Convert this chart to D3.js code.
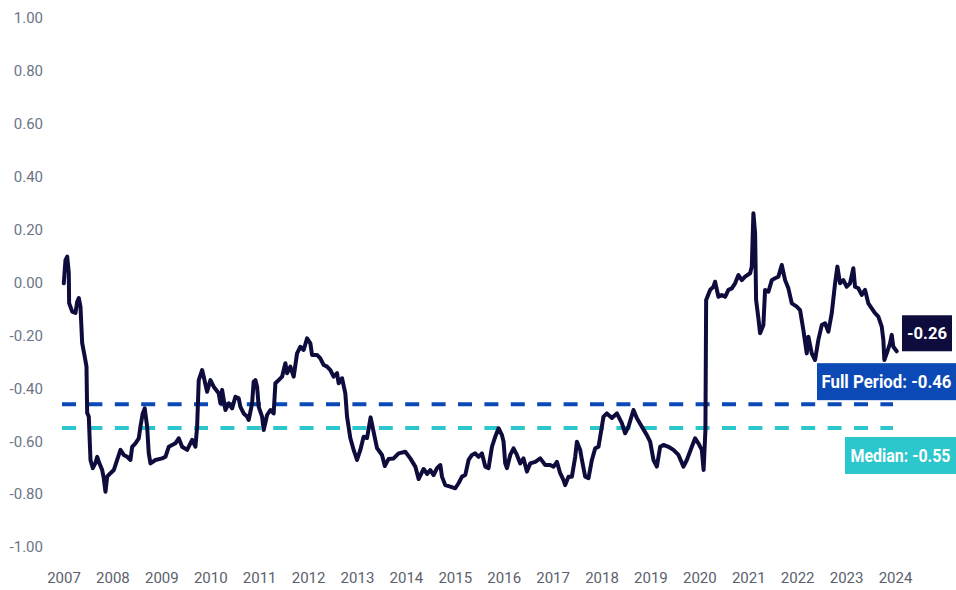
<!DOCTYPE html>
<html>
<head>
<meta charset="utf-8">
<script src="https://cdn.jsdelivr.net/npm/d3@7"></script>
<style>
  html, body { margin: 0; padding: 0; background: #ffffff; }
  svg { display: block; }
</style>
</head>
<body>
<svg id="chart" width="956" height="590"></svg>
<script>
// ---- data (decimal year, value) ----
const dates = [
  2007.006, 2007.041, 2007.076, 2007.108, 2007.115, 2007.178, 2007.245, 2007.280, 2007.313, 2007.347,
  2007.382, 2007.435, 2007.470, 2007.484, 2007.517, 2007.552, 2007.599, 2007.654, 2007.689, 2007.721,
  2007.791, 2007.823, 2007.858, 2007.893, 2007.960, 2008.028, 2008.097, 2008.165, 2008.232, 2008.302,
  2008.369, 2008.404, 2008.471, 2008.539, 2008.573, 2008.620, 2008.661, 2008.710, 2008.743, 2008.778,
  2008.880, 2009.017, 2009.084, 2009.152, 2009.288, 2009.356, 2009.425, 2009.528, 2009.630, 2009.697,
  2009.732, 2009.765, 2009.834, 2009.867, 2009.936, 2010.004, 2010.071, 2010.173, 2010.208, 2010.243,
  2010.310, 2010.378, 2010.447, 2010.515, 2010.582, 2010.617, 2010.684, 2010.754, 2010.786, 2010.856,
  2010.888, 2010.923, 2010.958, 2010.991, 2011.060, 2011.093, 2011.162, 2011.230, 2011.297, 2011.332,
  2011.399, 2011.469, 2011.536, 2011.571, 2011.638, 2011.706, 2011.775, 2011.843, 2011.910, 2011.980,
  2012.047, 2012.082, 2012.184, 2012.251, 2012.319, 2012.388, 2012.456, 2012.523, 2012.593, 2012.625,
  2012.695, 2012.762, 2012.797, 2012.864, 2012.932, 2013.001, 2013.069, 2013.136, 2013.206, 2013.279,
  2013.340, 2013.410, 2013.512, 2013.569, 2013.647, 2013.749, 2013.851, 2013.988, 2014.090, 2014.193,
  2014.260, 2014.362, 2014.432, 2014.499, 2014.567, 2014.636, 2014.704, 2014.738, 2014.805, 2014.908,
  2015.010, 2015.077, 2015.147, 2015.214, 2015.282, 2015.351, 2015.418, 2015.486, 2015.555, 2015.623,
  2015.690, 2015.760, 2015.827, 2015.895, 2015.964, 2015.997, 2016.031, 2016.066, 2016.134, 2016.201,
  2016.270, 2016.338, 2016.405, 2016.475, 2016.542, 2016.645, 2016.747, 2016.849, 2016.951, 2017.019,
  2017.088, 2017.155, 2017.223, 2017.257, 2017.325, 2017.394, 2017.462, 2017.497, 2017.564, 2017.599,
  2017.666, 2017.734, 2017.803, 2017.871, 2017.938, 2018.007, 2018.040, 2018.109, 2018.212, 2018.314,
  2018.416, 2018.483, 2018.551, 2018.653, 2018.723, 2018.825, 2018.927, 2018.994, 2019.062, 2019.131,
  2019.199, 2019.266, 2019.368, 2019.470, 2019.573, 2019.675, 2019.744, 2019.846, 2019.914, 2019.981,
  2020.050, 2020.087, 2020.124, 2020.139, 2020.220, 2020.288, 2020.322, 2020.390, 2020.459, 2020.527,
  2020.594, 2020.664, 2020.731, 2020.799, 2020.868, 2020.935, 2021.038, 2021.072, 2021.105, 2021.140,
  2021.160, 2021.207, 2021.242, 2021.309, 2021.344, 2021.412, 2021.481, 2021.548, 2021.616, 2021.685,
  2021.753, 2021.820, 2021.890, 2021.992, 2022.059, 2022.127, 2022.196, 2022.229, 2022.298, 2022.366,
  2022.433, 2022.503, 2022.570, 2022.638, 2022.707, 2022.775, 2022.822, 2022.876, 2022.944, 2023.013,
  2023.081, 2023.148, 2023.183, 2023.251, 2023.320, 2023.388, 2023.455, 2023.524, 2023.592, 2023.659,
  2023.729, 2023.762, 2023.782, 2023.831, 2023.898, 2023.933, 2023.966, 2024.035
];
const values = [
  -0.003, 0.085, 0.098, 0.036, -0.078, -0.110, -0.115, -0.073, -0.059, -0.091,
  -0.229, -0.281, -0.318, -0.493, -0.507, -0.671, -0.702, -0.682, -0.659, -0.678,
  -0.709, -0.740, -0.791, -0.734, -0.721, -0.709, -0.671, -0.633, -0.652, -0.659,
  -0.671, -0.621, -0.608, -0.589, -0.545, -0.495, -0.476, -0.545, -0.646, -0.684,
  -0.671, -0.665, -0.659, -0.621, -0.608, -0.589, -0.621, -0.633, -0.595, -0.621,
  -0.545, -0.369, -0.331, -0.356, -0.413, -0.369, -0.394, -0.419, -0.457, -0.406,
  -0.482, -0.457, -0.476, -0.432, -0.438, -0.470, -0.495, -0.507, -0.520, -0.457,
  -0.375, -0.369, -0.394, -0.470, -0.507, -0.558, -0.501, -0.482, -0.495, -0.381,
  -0.369, -0.356, -0.305, -0.343, -0.318, -0.356, -0.268, -0.243, -0.255, -0.211,
  -0.230, -0.274, -0.274, -0.287, -0.312, -0.318, -0.331, -0.356, -0.343, -0.381,
  -0.362, -0.419, -0.507, -0.588, -0.633, -0.671, -0.633, -0.583, -0.588, -0.510,
  -0.565, -0.626, -0.652, -0.694, -0.667, -0.665, -0.646, -0.640, -0.665, -0.696,
  -0.743, -0.705, -0.724, -0.709, -0.728, -0.702, -0.690, -0.734, -0.766, -0.772,
  -0.778, -0.759, -0.734, -0.728, -0.671, -0.652, -0.646, -0.659, -0.646, -0.696,
  -0.702, -0.621, -0.583, -0.551, -0.577, -0.602, -0.684, -0.702, -0.652, -0.627,
  -0.652, -0.684, -0.665, -0.715, -0.684, -0.678, -0.665, -0.690, -0.690, -0.696,
  -0.678, -0.721, -0.747, -0.766, -0.734, -0.734, -0.659, -0.602, -0.633, -0.671,
  -0.734, -0.740, -0.671, -0.627, -0.621, -0.545, -0.507, -0.495, -0.512, -0.495,
  -0.532, -0.570, -0.545, -0.482, -0.513, -0.545, -0.577, -0.602, -0.671, -0.696,
  -0.621, -0.614, -0.621, -0.633, -0.652, -0.696, -0.671, -0.621, -0.589, -0.608,
  -0.633, -0.709, -0.558, -0.066, -0.028, -0.016, 0.003, -0.054, -0.047, -0.054,
  -0.028, -0.022, -0.003, 0.028, 0.009, 0.022, 0.035, 0.060, 0.262, 0.186,
  -0.066, -0.135, -0.192, -0.161, -0.028, -0.035, 0.009, 0.016, 0.022, 0.066,
  0.009, -0.022, -0.079, -0.091, -0.104, -0.180, -0.268, -0.205, -0.268, -0.293,
  -0.217, -0.161, -0.154, -0.186, -0.116, -0.003, 0.060, -0.003, 0.009, -0.016,
  -0.003, 0.054, -0.016, -0.022, -0.047, -0.028, -0.079, -0.098, -0.116, -0.129,
  -0.167, -0.217, -0.293, -0.268, -0.230, -0.198, -0.243, -0.260
];
const yTickValues = [1.0, 0.8, 0.6, 0.4, 0.2, 0.0, -0.2, -0.4, -0.6, -0.8, -1.0];
const xTickValues = [2007, 2008, 2009, 2010, 2011, 2012, 2013, 2014, 2015, 2016,
                     2017, 2018, 2019, 2020, 2021, 2022, 2023, 2024];
const fullPeriodAvg = -0.46;
const medianValue = -0.55;
const latestValue = -0.26;
const fullPeriodLabel = "Full Period: -0.46";
const medianLabel = "Median: -0.55";
const latestLabel = "-0.26";

// ---- drawing ----
const svg = d3.select("#chart");
const x = d3.scaleLinear().domain([2007, 2024]).range([63.5, 895]);
const y = d3.scaleLinear().domain([-1, 1]).range([547, 18]);

const NAVY = "#0d0c3c", BLUE = "#0b49b6", TEAL = "#2cc6cd";
const FONT = "Roboto, 'Liberation Sans', sans-serif";

// y axis
const yAxis = svg.append("g")
  .attr("transform", "translate(43,0)")
  .call(d3.axisLeft(y).tickValues(yTickValues).tickSize(0).tickPadding(0)
        .tickFormat(d => d.toFixed(2)));
yAxis.select(".domain").remove();
yAxis.selectAll("text").attr("font-family", FONT).attr("font-size", 15)
  .attr("fill", "#6b7487");

// x axis
const xAxis = svg.append("g")
  .attr("transform", "translate(0,560)")
  .call(d3.axisBottom(x).tickValues(xTickValues).tickSize(0).tickPadding(12)
        .tickFormat(d3.format("d")));
xAxis.select(".domain").remove();
xAxis.selectAll("text").attr("font-family", FONT).attr("font-size", 15)
  .attr("fill", "#5c616c");

// reference lines
const refStart = x.invert(62), refEnd = x.invert(893);
[[fullPeriodAvg, BLUE], [medianValue, TEAL]].forEach(([v, c]) => {
  svg.append("line")
    .attr("x1", x(refStart)).attr("x2", x(refEnd))
    .attr("y1", y(v)).attr("y2", y(v))
    .attr("stroke", c).attr("stroke-width", 4)
    .attr("stroke-dasharray", "14,12.4");
});

// main series
const series = dates.map((t, i) => ({t, v: values[i]}));
svg.append("path")
  .datum(series)
  .attr("fill", "none")
  .attr("stroke", NAVY)
  .attr("stroke-width", 4)
  .attr("stroke-linejoin", "round")
  .attr("stroke-linecap", "round")
  .attr("d", d3.line().x(d => x(d.t)).y(d => y(d.v)));

// labels
function tag(x0, y0, w, h, fill, label, fs, tl) {
  svg.append("rect").attr("x", x0).attr("y", y0).attr("width", w).attr("height", h)
    .attr("fill", fill);
  svg.append("text")
    .attr("x", x0 + w / 2).attr("y", y0 + h / 2)
    .attr("dy", "0.36em")
    .attr("text-anchor", "middle")
    .attr("font-family", FONT).attr("font-weight", 700).attr("font-size", fs)
    .attr("fill", "#ffffff")
    .attr("textLength", tl).attr("lengthAdjust", "spacingAndGlyphs")
    .text(label);
}
tag(902, y(latestValue) - 36, 50, 36, NAVY, latestLabel, 16, 40);
tag(817, y(fullPeriodAvg) - 41, 139, 37, BLUE, fullPeriodLabel, 17.5, 130);
tag(845, y(medianValue) + 9, 111, 37, TEAL, medianLabel, 17.5, 100);
</script>
</body>
</html>
